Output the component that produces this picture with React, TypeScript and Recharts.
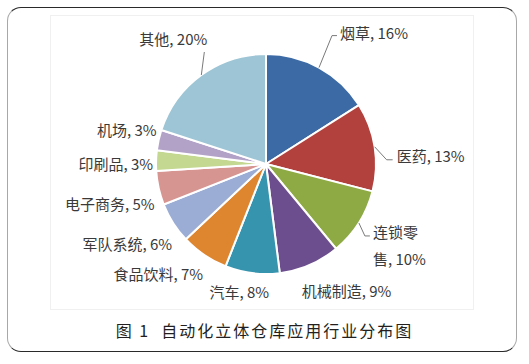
import { PieChart, Pie, Cell } from 'recharts';

const CATEGORIES = ['烟草', '医药', '连锁零售', '机械制造', '汽车', '食品饮料', '军队系统', '电子商务', '印刷品', '机场', '其他'];
const SHARES = [16, 13, 10, 9, 8, 7, 6, 5, 3, 3, 20];
const COLORS = ['#3B6AA5', '#B2403C', '#8EAA45', '#6C4E8E', '#3794AF', '#DE8530', '#9CADD5', '#D79592', '#C4D891', '#B3A2C8', '#9DC5D5'];
// label text lines (连锁零售 wraps in the original)
const LABEL_TEXT = [
  ['烟草, 16%'], ['医药, 13%'], ['连锁零', '售, 10%'], ['机械制造, 9%'], ['汽车, 8%'],
  ['食品饮料, 7%'], ['军队系统, 6%'], ['电子商务, 5%'], ['印刷品, 3%'], ['机场, 3%'], ['其他, 20%'],
];
const CAPTION = '图 1  自动化立体仓库应用行业分布图';

const data = CATEGORIES.map((name, i) => ({ name, value: SHARES[i] }));

// label placement relative to the slice's outer edge point
type Layout = { dx: number; dy: number; anchor: 'start' | 'middle' | 'end'; leader?: number[][] };
const LABEL_LAYOUT: Layout[] = [
  { dx: 21, dy: -36, anchor: 'start', leader: [[13, -32], [18, -32]] },
  { dx: 22, dy: 8, anchor: 'start', leader: [[12, 13], [18, 13]] },
  { dx: 14, dy: 8, anchor: 'start', leader: [[6, 13], [11, 13]] },
  { dx: -8, dy: 25, anchor: 'start' },
  { dx: -13, dy: 18, anchor: 'middle' },
  { dx: -1, dy: 18, anchor: 'end' },
  { dx: -1, dy: 20, anchor: 'end' },
  { dx: -4, dy: 15, anchor: 'end' },
  { dx: -3, dy: 2, anchor: 'end' },
  { dx: -2, dy: -11, anchor: 'end' },
  { dx: 6, dy: -37, anchor: 'end', leader: [[3, -23]] },
];

const RAD = Math.PI / 180;
const FONT = '"Noto Sans CJK SC", "Noto Sans", sans-serif';

const renderLabel = (props: any) => {
  const { cx, cy, midAngle, outerRadius, index } = props;
  const a = -midAngle * RAD;
  const ex = cx + outerRadius * Math.cos(a);
  const ey = cy + outerRadius * Math.sin(a);
  const L = LABEL_LAYOUT[index];
  const x = ex + L.dx;
  const pts = L.leader ? [[ex, ey], ...L.leader.map(([px, py]) => [ex + px, ey + py])] : null;
  return (
    <g key={`lbl-${index}`}>
      {pts && (
        <polyline points={pts.map(p => p.join(',')).join(' ')} fill="none" stroke="#7a7a7a" strokeWidth={1} />
      )}
      <text x={x} y={ey + L.dy} textAnchor={L.anchor} dominantBaseline="central"
        fill="#3a3a3a" fontSize={15} fontFamily={FONT}>
        {LABEL_TEXT[index].map((t, i) => (
          <tspan key={i} x={x} dy={i === 0 ? 0 : 27}>{t}</tspan>
        ))}
      </text>
    </g>
  );
};

export default function App() {
  return (
    <div style={{ position: 'absolute', left: 0, top: 0, width: 529, height: 364, background: '#fff', overflow: 'hidden' }}>
      {/* outer rounded frame */}
      <div style={{
        position: 'absolute', left: 7, top: 7, width: 508, height: 343, borderRadius: 14,
        borderTop: '1.5px solid #2a2a2a', borderBottom: '1.5px solid #2a2a2a',
        borderLeft: '1.5px solid #a8a8a8', borderRight: '1.5px solid #a8a8a8',
      }} />
      {/* faint edge of the embedded chart picture */}
      <div style={{ position: 'absolute', left: 50, top: 15, width: 422, height: 293, border: '1px solid #f0f0f0' }} />
      <div style={{ position: 'absolute', left: 0, top: 0 }}>
        <PieChart width={529} height={364} margin={{ top: 0, right: 0, bottom: 0, left: 0 }}>
          <Pie data={data} dataKey="value" nameKey="name" cx={266} cy={164} outerRadius={110}
            startAngle={90} endAngle={-270} stroke="#fff" strokeWidth={2}
            label={renderLabel} labelLine={false} isAnimationActive={false}>
            {data.map((d, i) => <Cell key={d.name} fill={COLORS[i]} />)}
          </Pie>
        </PieChart>
      </div>
      <div style={{
        position: 'absolute', left: 0, width: 529, top: 318, textAlign: 'center',
        fontFamily: FONT, fontSize: 16, letterSpacing: 2, color: '#231f20', whiteSpace: 'pre', lineHeight: '24px',
      }}>
        {CAPTION}
      </div>
    </div>
  );
}
